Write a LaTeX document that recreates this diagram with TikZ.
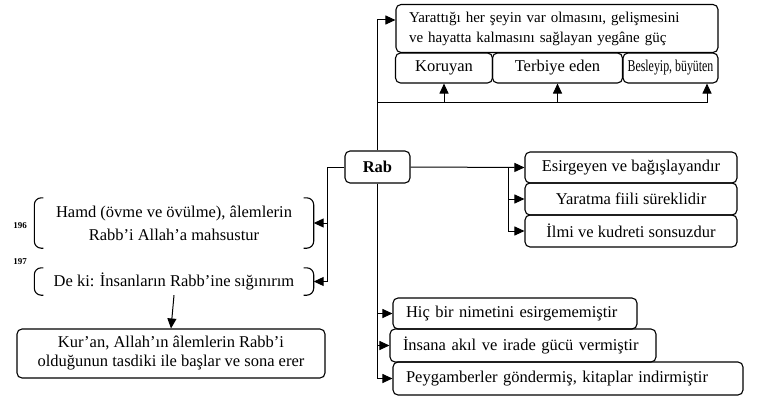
\documentclass[tikz,border=0pt]{standalone}
\usepackage{fontspec}
\setmainfont{Liberation Serif}
\newfontfamily\darfont[FakeStretch=0.72]{Liberation Serif}
\usetikzlibrary{arrows.meta,positioning}

\begin{document}
\begin{tikzpicture}[x=1pt,y=-1pt,
    kutu/.style={draw, rounded corners=5pt, line width=1.1pt, inner sep=0pt, font=\fontsize{16.5}{19}\selectfont},
    solkutu/.style={kutu, align=left, inner xsep=13pt},
    ayet/.style={inner sep=0pt, align=center, font=\fontsize{16.5}{23}\selectfont},
    parantez/.style={line width=1.1pt, rounded corners=7pt},
    numara/.style={font=\fontsize{9}{10}\selectfont\bfseries},
    arr/.style={-{Triangle[length=10pt,width=9pt]}, line width=1pt}
]
\useasboundingbox (0,0) rectangle (779,396);

% ust kisim
\node[solkutu, font=\fontsize{15}{20}\selectfont, text width=296pt, minimum height=48pt] (yegane) at (557,28.5) {Yarattığı her şeyin var olmasını, gelişmesini\\ve hayatta kalmasını sağlayan yegâne güç};
\node[kutu, minimum width=97pt, minimum height=30pt] (koruyan) at (444,68) {Koruyan};
\node[kutu, minimum width=130pt, minimum height=30pt] (terbiye) at (557.5,68) {Terbiye eden};
\node[kutu, minimum width=95pt, minimum height=30pt] (besleyip) at (670.5,68) {\darfont Besleyip, büyüten};

\node[kutu, minimum width=65pt, minimum height=32pt] (rab) at (377.5,167) {\textbf{Rab}};

% sag kisim
\node[kutu, minimum width=212pt, minimum height=31pt] (esirgeyen) at (631,167.5) {Esirgeyen ve bağışlayandır};
\node[kutu, minimum width=212pt, minimum height=32pt] (yaratma) at (631,199) {Yaratma fiili süreklidir};
\node[kutu, minimum width=212pt, minimum height=32pt] (ilim) at (631,231) {İlmi ve kudreti sonsuzdur};

% alt kisim
\node[solkutu, text width=218pt, minimum height=31pt] (nimet) at (515,313.5) {Hiç bir nimetini esirgememiştir};
\node[solkutu, text width=240pt, minimum height=33pt] (akil) at (523,345.5) {İnsana akıl ve irade gücü vermiştir};
\node[solkutu, text width=324pt, minimum height=33pt] (peygamber) at (568,378.5) {Peygamberler göndermiş, kitaplar indirmiştir};

% sol kisim (ayetler)
\node[ayet, minimum width=279pt, minimum height=50pt] (hamd) at (174,223) {Hamd (övme ve övülme), âlemlerin\\Rabb’i Allah’a mahsustur};
\node[ayet, minimum width=279pt, minimum height=27pt] (deki) at (174,281.5) {De ki: İnsanların Rabb’ine sığınırım};
\node[numara] (no196) at (20,226) {196};
\node[numara] (no197) at (20,262) {197};
\node[kutu, align=center, minimum width=308pt, minimum height=49pt] (kuran) at (171,353.5) {Kur’an, Allah’ın âlemlerin Rabb’i\\olduğunun tasdiki ile başlar ve sona erer};

\draw[parantez] ([xshift=9pt]hamd.north west) -| (hamd.south west) -- ++(9,0);
\draw[parantez] ([xshift=-10pt]hamd.north east) -| (hamd.south east) -- ++(-10,0);
\draw[parantez] ([xshift=9pt]deki.north west) -| (deki.south west) -- ++(9,0);
\draw[parantez] ([xshift=-10pt]deki.north east) -| (deki.south east) -- ++(-10,0);

% baglantilar
\coordinate (alt) at (377.5,102);
\coordinate (sag) at (508,167);
\coordinate (sol) at (327,167);

\draw[arr] (rab.north) |- ([yshift=8.5pt]yegane.west);
\draw[arr] (alt) -| (koruyan.south);
\draw[arr] (alt) -| (terbiye.south);
\draw[arr] (alt) -| ([xshift=36.5pt]besleyip.south);

\draw[arr] (rab.east) -- (esirgeyen.west);
\draw[arr] (sag) |- (yaratma.west);
\draw[arr] (sag) |- (ilim.west);

\draw[arr] (rab.south) |- (nimet.west);
\draw[arr] (rab.south) |- (akil.west);
\draw[arr] (rab.south) |- (peygamber.west);

\draw[line width=1pt] (rab.west) -- (sol);
\draw[arr] (sol) |- (hamd.east);
\draw[arr] (sol) |- (deki.east);
\draw[arr] (deki.south) -- (kuran.north);
\end{tikzpicture}
\end{document}
